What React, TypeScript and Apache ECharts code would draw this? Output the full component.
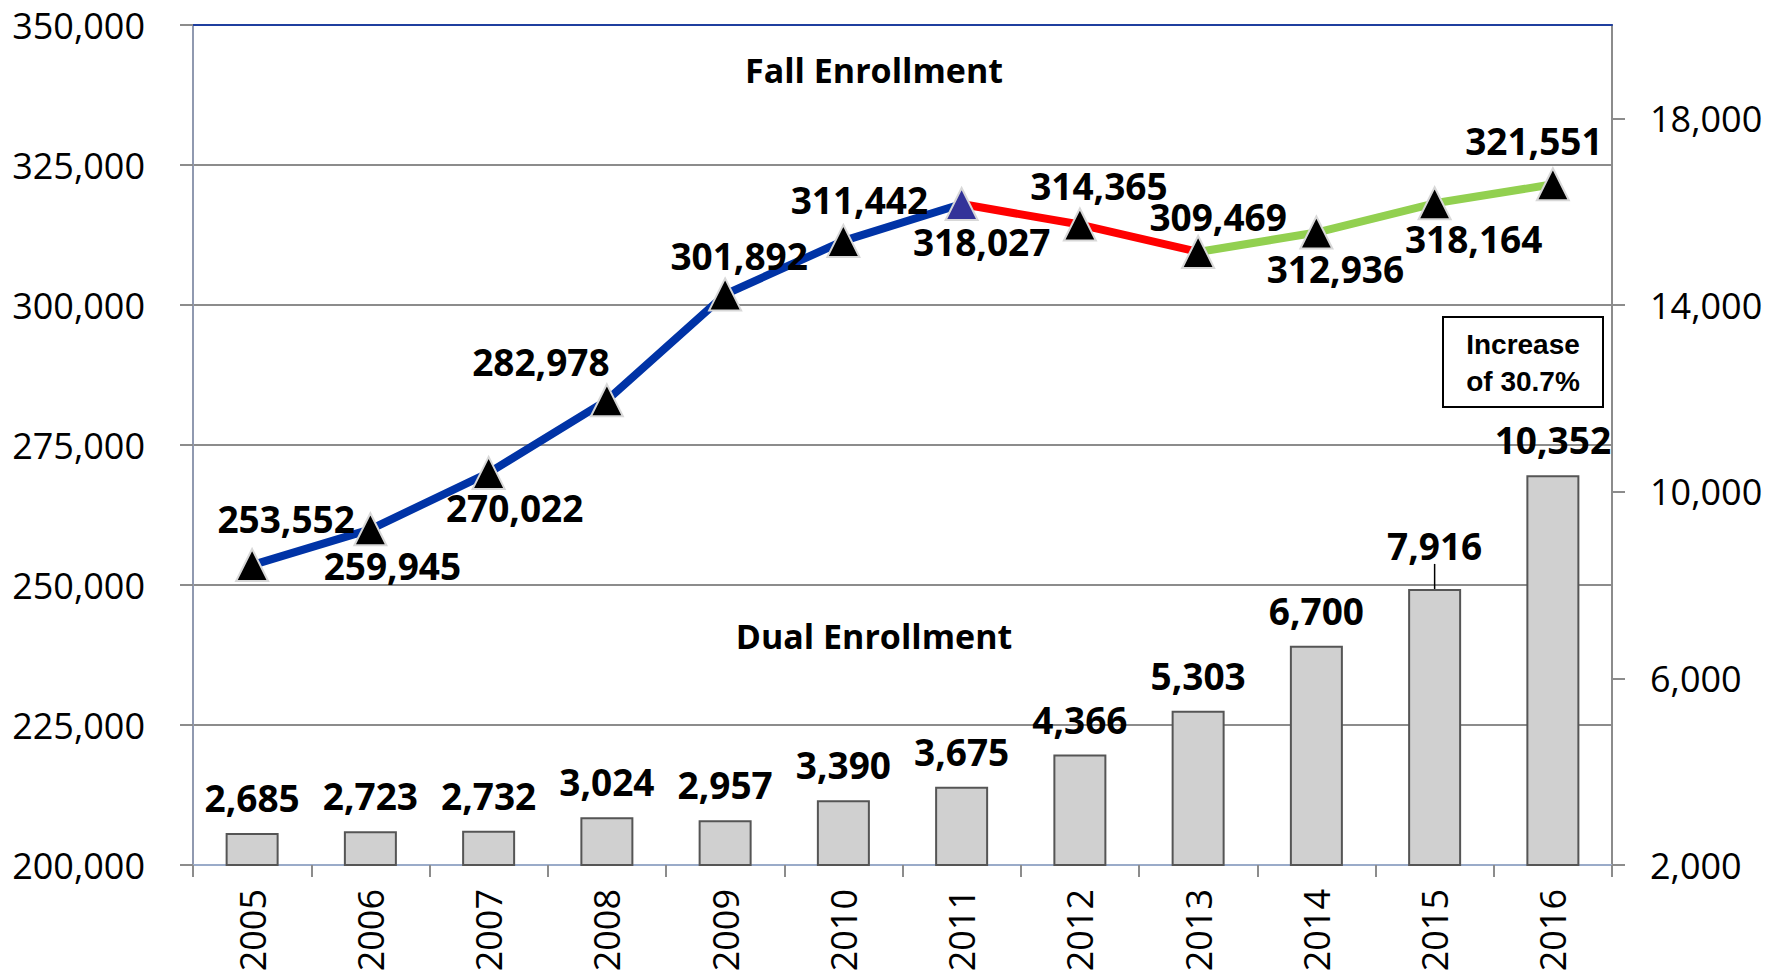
import React, { useEffect, useRef } from 'react';
import * as echarts from 'echarts';

const years = ['2005', '2006', '2007', '2008', '2009', '2010', '2011', '2012', '2013', '2014', '2015', '2016'];
const fallEnrollment = [253552, 259945, 270022, 282978, 301892, 311442, 318027, 314365, 309469, 312936, 318164, 321551];
const dualEnrollment = [2685, 2723, 2732, 3024, 2957, 3390, 3675, 4366, 5303, 6700, 7916, 10352];
const rightTicks = [2000, 6000, 10000, 14000, 18000];
const blueEnd = 6; // 2011
const redEnd = 8; // 2013
const highlightIndex = 6; // 2011 marker
const leaderIndex = 10; // 2015 bar label with leader line

const FONT = '"Open Sans", "Noto Sans", sans-serif';
const fallLabelOffsets: [number, number][] = [
  [34, -47], [22, 36], [26, 35], [-66, -39], [14, -39], [16, -41],
  [20, 37], [19, -39], [20, -35], [19, 36], [39, 35], [-19, -44],
];

const fmt = (v: number) => Number(v).toLocaleString('en-US');

export default function App() {
  const ref = useRef<HTMLDivElement>(null);
  useEffect(() => {
    if (!ref.current) return;
    const chart = echarts.init(ref.current, null, { renderer: 'svg' });
    const blue = fallEnrollment.map((v, i) => (i <= blueEnd ? v : null));
    const red = fallEnrollment.map((v, i) => (i >= blueEnd && i <= redEnd ? v : null));
    const green = fallEnrollment.map((v, i) => (i >= redEnd ? v : null));
    const option: any = {
      animation: false,
      backgroundColor: '#fff',
      grid: { left: 193, right: 168, top: 25, bottom: 114, containLabel: false },
      xAxis: [
        {
          type: 'category',
          data: years,
          position: 'bottom',
          boundaryGap: true,
          axisLine: { show: true, lineStyle: { color: '#9aabc9', width: 2 } },
          axisTick: { show: true, alignWithLabel: false, length: 12, lineStyle: { color: '#8c8c8c', width: 2 } },
          axisLabel: { rotate: 90, fontSize: 36, color: '#000', fontFamily: FONT, margin: 24 },
          splitLine: { show: false },
        },
        {
          type: 'category',
          data: years,
          position: 'top',
          axisLine: { show: true, lineStyle: { color: '#1f3f9f', width: 2 } },
          axisTick: { show: false },
          axisLabel: { show: false },
          splitLine: { show: false },
        },
      ],
      yAxis: [
        {
          type: 'value',
          min: 200000,
          max: 350000,
          interval: 25000,
          position: 'left',
          axisLine: { show: true, lineStyle: { color: '#9099b0', width: 2 } },
          axisTick: { show: true, length: 13, lineStyle: { color: '#8c8c8c', width: 2 } },
          axisLabel: { fontSize: 36, color: '#000', fontFamily: FONT, margin: 48, formatter: (v: number) => fmt(v) },
          splitLine: { show: true, lineStyle: { color: '#8c8c8c', width: 2 } },
        },
        {
          type: 'value',
          min: 2000,
          max: 20000,
          interval: 4000,
          position: 'right',
          axisLine: { show: true, lineStyle: { color: '#8c8c8c', width: 2 } },
          axisTick: { show: true, length: 13, customValues: rightTicks, lineStyle: { color: '#8c8c8c', width: 2 } },
          axisLabel: {
            fontSize: 36, color: '#000', fontFamily: FONT, margin: 38,
            customValues: rightTicks, formatter: (v: number) => fmt(v),
          },
          splitLine: { show: false },
        },
      ],
      series: [
        {
          type: 'bar',
          xAxisIndex: 0,
          yAxisIndex: 1,
          barWidth: 53,
          data: dualEnrollment.map((v, i) =>
            i === leaderIndex
              ? { value: v, labelLine: { show: true, lineStyle: { color: '#000', width: 1.5 } } }
              : v
          ),
          itemStyle: { color: '#d0d0d0', borderColor: '#555', borderWidth: 2 },
          label: {
            show: true, position: 'top', distance: 17, fontSize: 37, fontWeight: 'bold',
            color: '#000', fontFamily: FONT, formatter: (p: any) => fmt(p.value),
          },
          labelLayout: (p: any) => (p.dataIndex === leaderIndex ? { dy: -8 } : {}),
          z: 2,
        },
        {
          type: 'line', yAxisIndex: 0, data: blue, symbol: 'none',
          lineStyle: { color: '#0033a6', width: 8 }, z: 3,
        },
        {
          type: 'line', yAxisIndex: 0, data: red, symbol: 'none',
          lineStyle: { color: '#ff0000', width: 8 }, z: 3,
        },
        {
          type: 'line', yAxisIndex: 0, data: green, symbol: 'none',
          lineStyle: { color: '#92d050', width: 8 }, z: 3,
        },
        {
          type: 'scatter',
          yAxisIndex: 0,
          symbol: 'triangle',
          symbolSize: 32,
          itemStyle: { color: '#000', borderColor: '#d8d8d8', borderWidth: 2, opacity: 1 },
          data: fallEnrollment.map((v, i) => ({
            value: v,
            itemStyle: i === highlightIndex ? { color: '#333399', opacity: 1 } : undefined,
            label: { offset: fallLabelOffsets[i] },
          })),
          label: {
            show: true, position: 'inside', align: 'center', verticalAlign: 'middle',
            fontSize: 37, fontWeight: 'bold', color: '#000', fontFamily: FONT,
            textBorderWidth: 0, formatter: (p: any) => fmt(p.value),
          },
          z: 4,
        },
      ],
      graphic: [
        {
          type: 'text', x: 874, y: 70, z: 10,
          style: { text: 'Fall Enrollment', font: `bold 34px ${FONT}`, fill: '#000', align: 'center', verticalAlign: 'middle' },
        },
        {
          type: 'text', x: 874, y: 636, z: 10,
          style: { text: 'Dual Enrollment', font: `bold 34px ${FONT}`, fill: '#000', align: 'center', verticalAlign: 'middle' },
        },
        {
          type: 'rect', z: 10,
          shape: { x: 1443, y: 317, width: 160, height: 90 },
          style: { fill: '#fff', stroke: '#000', lineWidth: 2 },
        },
        {
          type: 'text', x: 1523, y: 363, z: 11,
          style: {
            text: 'Increase\nof 30.7%', font: 'bold 28px "Liberation Sans", Arial, sans-serif',
            fill: '#000', align: 'center', verticalAlign: 'middle', lineHeight: 37,
          },
        },
      ],
    };
    chart.setOption(option);
    return () => chart.dispose();
  }, []);
  return <div ref={ref} style={{ position: 'absolute', left: 0, top: 0, width: 1780, height: 979 }} />;
}
